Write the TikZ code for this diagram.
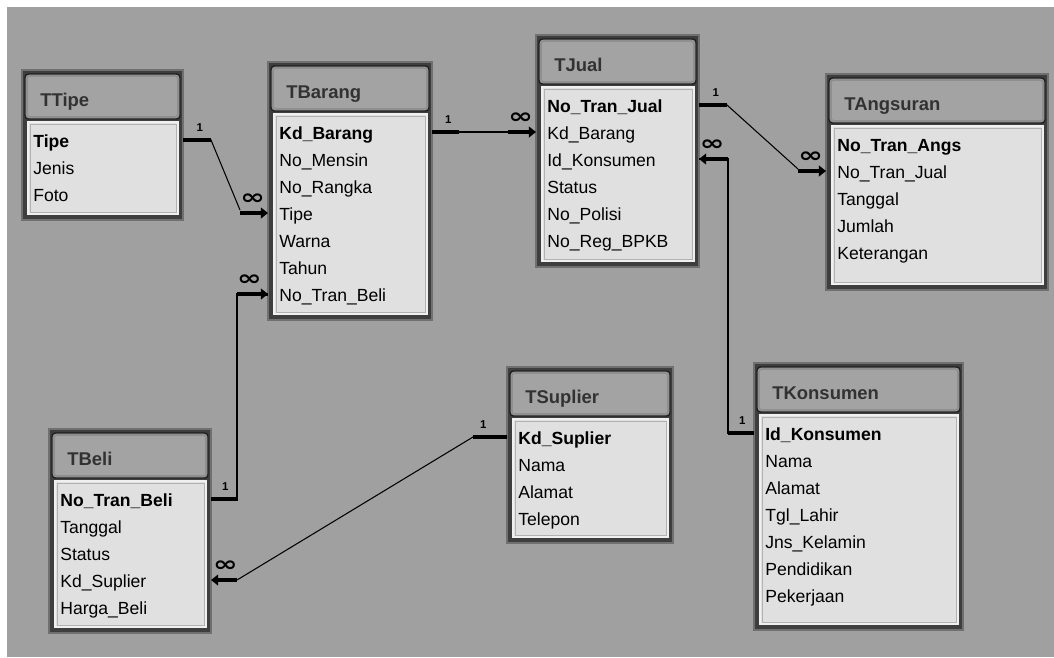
\documentclass[tikz,border=0pt]{standalone}
\usepackage{fontspec}
\setmainfont{Liberation Sans}
\newfontfamily\symfont{DejaVu Sans}
\usepackage{tikz}
\usetikzlibrary{positioning}
\usetikzlibrary{arrows.meta,calc,fit}

\definecolor{canvas}{RGB}{160,160,160}
\definecolor{frame}{RGB}{62,62,62}
\definecolor{rim}{RGB}{112,112,112}
\definecolor{body}{RGB}{224,224,224}
\definecolor{titletext}{RGB}{50,50,50}

\newcommand{\manymark}{\scalebox{1.4}[1]{∞}}

% table: name, x1, y1, x2, y2, title, fields (first one is the key)
\newcommand{\erdtable}[7]{
  \node[tblframe, fit={(#2,#3) (#4,#5)}] (#1) {};
  \draw[tblbar] (#2+3,#3+4) rectangle (#4-3,#3+49);
  \draw[tblbarin] (#2+5,#3+6) rectangle (#4-5,#3+47);
  \node[tbltitle] (#1-title) at (#2+18,#3+29) {#6};
  \draw[tblbody] (#2+6,#3+52) rectangle (#4-5,#5-6);
  \draw[tblinner] (#2+8,#3+54) rectangle (#4-7,#5-8);
  \foreach \f [count=\i] in {#7}
    \node[field] (#1-\i) at (#2+11,#3+43+27*\i) {\ifnum\i=1 \bfseries\fi\f};
}

\begin{document}
\begin{tikzpicture}[x=0.02cm,y=-0.02cm,
    tblframe/.style={fill=frame,draw=rim,line width=1.2pt,inner sep=0,outer sep=0},
    tblbar/.style={rounded corners=2pt,fill=black!36,draw=black!88,line width=0.8pt},
    tblbarin/.style={rounded corners=1.5pt,draw=black!44,line width=1pt},
    tbltitle/.style={anchor=west,inner sep=0,text height=8pt,text depth=0pt,text=titletext,font=\bfseries\fontsize{10.5}{12}\selectfont},
    tblbody/.style={fill=body,draw=black!6,line width=1pt},
    tblinner/.style={draw=black!30,line width=0.5pt},
    field/.style={anchor=west,inner sep=0,text height=9pt,text depth=0pt,font=\fontsize{10}{12}\selectfont},
    rel/.style={line width=0.6pt},
    onestub/.style={line width=2.2pt},
    manystub/.style={line width=2.2pt,-{Triangle[length=4pt,width=6pt]}},
    card/.style={inner sep=0,font=\bfseries\fontsize{6.5}{7}\selectfont},
    many/.style={inner sep=0,font=\symfont\bfseries\fontsize{12}{12}\selectfont}]
  \useasboundingbox (0,0) rectangle (1054,657);
  \fill[white] (0,0) rectangle (1054,657);
  \fill[canvas] (7,7) rectangle (1054,657);

  \erdtable{ttipe}{22}{70}{183}{220}{TTipe}{Tipe,Jenis,Foto}
  \erdtable{tbarang}{268}{62}{432}{320}{TBarang}{Kd\_Barang,No\_Mensin,No\_Rangka,Tipe,Warna,Tahun,No\_Tran\_Beli}
  \erdtable{tjual}{536}{35}{699}{267}{TJual}{No\_Tran\_Jual,Kd\_Barang,Id\_Konsumen,Status,No\_Polisi,No\_Reg\_BPKB}
  \erdtable{tangsuran}{826}{74}{1048}{290}{TAngsuran}{No\_Tran\_Angs,No\_Tran\_Jual,Tanggal,Jumlah,Keterangan}
  \erdtable{tbeli}{49}{429}{211}{633}{TBeli}{No\_Tran\_Beli,Tanggal,Status,Kd\_Suplier,Harga\_Beli}
  \erdtable{tsuplier}{507}{367}{673}{543}{TSuplier}{Kd\_Suplier,Nama,Alamat,Telepon}
  \erdtable{tkonsumen}{754}{363}{963}{630}{TKonsumen}{Id\_Konsumen,Nama,Alamat,Tgl\_Lahir,Jns\_Kelamin,Pendidikan,Pekerjaan}

  % TTipe - TBarang
  \draw[rel] (ttipe.east |- ttipe-1) -- ++(28,0) -- ($(tbarang.west |- tbarang-4)+(-28,-3)$);
  \draw[onestub] (ttipe.east |- ttipe-1) -- ++(28,0) node[card,pos=.6,above=4pt] (ttipe-one) {1};
  \draw[manystub] ($(tbarang.west |- tbarang-4)+(-28,0)$) -- (tbarang.west |- tbarang-4) node[many,pos=.45,above=4pt] (tbarang-many1) {\manymark};

  % TBarang - TJual
  \draw[rel] (tbarang.east |- tbarang-1) -- ($(tjual.west |- tjual-2)+(-28,0)$);
  \draw[onestub] (tbarang.east |- tbarang-1) -- ++(27,0) node[card,pos=.6,above=4pt] (tbarang-one) {1};
  \draw[manystub] ($(tjual.west |- tjual-2)+(-28,0)$) -- (tjual.west |- tjual-2) node[many,pos=.45,above=4pt] (tjual-many1) {\manymark};

  % TJual - TAngsuran
  \draw[rel] (tjual.east |- tjual-1) -- ++(28,0) -- ($(tangsuran.west |- tangsuran-2)+(-28,-2)$);
  \draw[onestub] (tjual.east |- tjual-1) -- ++(28,0) node[card,pos=.6,above=4pt] (tjual-one) {1};
  \draw[manystub] ($(tangsuran.west |- tangsuran-2)+(-28,0)$) -- (tangsuran.west |- tangsuran-2) node[many,pos=.45,above=4pt] (tangsuran-many) {\manymark};

  % TKonsumen - TJual
  \draw[rel,line width=1.1pt] (tkonsumen.west |- tkonsumen-1) -- ++(-26,0) coordinate (kons-bend) |- (tjual.east |- tjual-3);
  \draw[onestub] (tkonsumen.west |- tkonsumen-1) -- (kons-bend) node[card,pos=.45,above=4pt] (tkonsumen-one) {1};
  \draw[manystub] (kons-bend |- tjual-3) -- (tjual.east |- tjual-3) node[many,pos=.55,above=4pt] (tjual-many2) {\manymark};

  % TBeli - TBarang
  \draw[rel,line width=1.7pt] (tbeli.east |- tbeli-1) -- ++(26,0) coordinate (beli-bend) |- (tbarang.west |- tbarang-7);
  \draw[onestub] (tbeli.east |- tbeli-1) -- (beli-bend) node[card,pos=.55,above=4pt] (tbeli-one) {1};
  \draw[manystub] (beli-bend |- tbarang-7) -- (tbarang.west |- tbarang-7) node[many,pos=.4,above=4pt] (tbarang-many2) {\manymark};

  % TSuplier - TBeli
  \draw[rel] (tsuplier.west |- tsuplier-1) -- ++(-34,0) -- ($(tbeli.east |- tbeli-4)+(26,0)$);
  \draw[onestub] (tsuplier.west |- tsuplier-1) -- ++(-34,0) node[card,pos=.7,above=4pt] (tsuplier-one) {1};
  \draw[manystub] ($(tbeli.east |- tbeli-4)+(26,0)$) -- (tbeli.east |- tbeli-4) node[many,pos=.45,above=4pt] (tbeli-many) {\manymark};
\end{tikzpicture}
\end{document}
